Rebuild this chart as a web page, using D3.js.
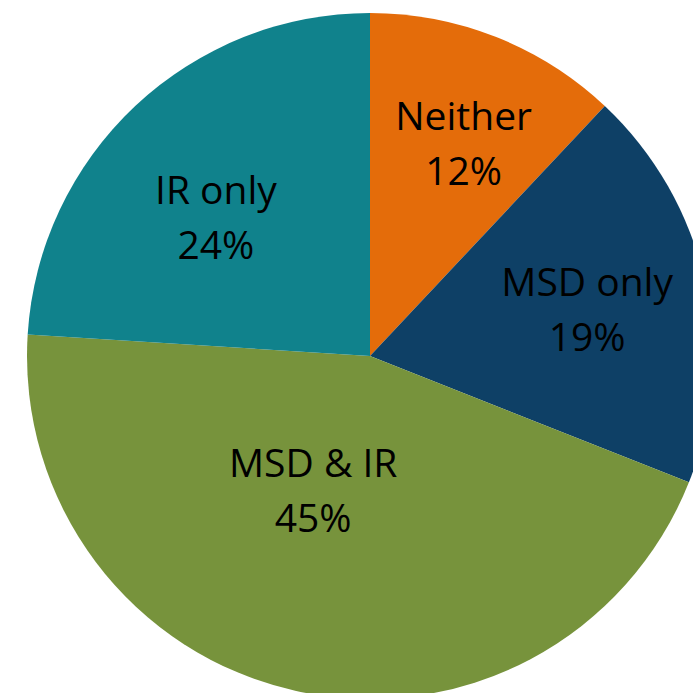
<!DOCTYPE html>
<html>
<head>
<meta charset="utf-8">
<script src="https://cdn.jsdelivr.net/npm/d3@7"></script>
<style>
  html, body { margin: 0; padding: 0; background: #fff; overflow: hidden; }
  svg { display: block; }
</style>
</head>
<body>
<svg id="chart" width="693" height="693"></svg>
<script>
// Slice categories and their shares (percent)
const categories = ["Neither", "MSD only", "MSD & IR", "IR only"];
const shares = [12, 19, 45, 24];
const colors = ["#E46C0A", "#0E4066", "#77933C", "#10828C"];

// Label anchors as polar offsets from the pie centre (angle in degrees clockwise from 12 o'clock, radius in px)
const labelPolar = [
  { angle: 23.8, r: 232 },
  { angle: 78.0, r: 222 },
  { angle: 202.9, r: 146 },
  { angle: 311.9, r: 207 }
];

const svg = d3.select("#chart");
const cx = 370, cy = 356, radius = 343;

const pie = d3.pie().sort(null).value(d => d)
  .startAngle(0).endAngle(2 * Math.PI);
const arcs = pie(shares);
const arc = d3.arc().innerRadius(0).outerRadius(radius);

const g = svg.append("g").attr("transform", `translate(${cx},${cy})`);

g.selectAll("path.slice")
  .data(arcs)
  .join("path")
  .attr("class", "slice")
  .attr("d", arc)
  .attr("fill", (d, i) => colors[i]);

const fontSize = 39;
const lineGap = 55;

const labels = g.selectAll("text.lbl")
  .data(arcs)
  .join("text")
  .attr("class", "lbl")
  .attr("text-anchor", "middle")
  .attr("font-family", "'Open Sans', sans-serif")
  .attr("font-size", fontSize)
  .attr("fill", "#000")
  .attr("transform", (d, i) => {
    const a = labelPolar[i].angle * Math.PI / 180;
    const r = labelPolar[i].r;
    return `translate(${r * Math.sin(a)},${-r * Math.cos(a)})`;
  });

labels.append("tspan")
  .attr("x", 0)
  .attr("y", -lineGap / 2 + fontSize * 0.36)
  .text((d, i) => categories[i]);

labels.append("tspan")
  .attr("x", 0)
  .attr("y", lineGap / 2 + fontSize * 0.36)
  .text(d => d3.format(".0f")(d.value) + "%");
</script>
</body>
</html>
